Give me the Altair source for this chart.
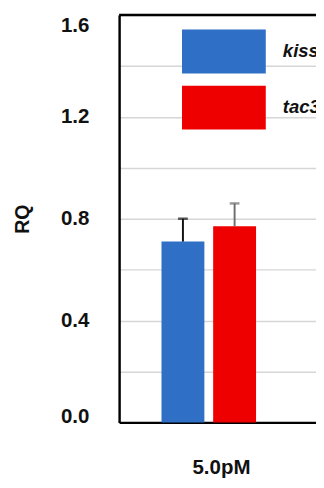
import altair as alt
import pandas as pd

# data
concentration = ["5.0pM"]
genes = ["kiss1", "tac3"]
rq_mean = [0.71, 0.77]
rq_err = [0.09, 0.09]
bar_colors = ["#2f6fc6", "#ee0000"]
err_colors = ["#111111", "#6e6e6e"]
y_top = 1.6
grid_values = [0, 0.2, 0.4, 0.6, 0.8, 1.0, 1.2, 1.4, 1.6]

df = pd.DataFrame({
    "conc": concentration * len(genes),
    "gene": genes,
    "rq": rq_mean,
    "err": rq_err,
    "errcolor": err_colors,
})
df["upper"] = df["rq"] + df["err"]

FONT = "Liberation Sans"

x_scale = alt.Scale(domain=concentration, paddingInner=0, paddingOuter=0.049, align=0)
xo_scale = alt.Scale(domain=genes, paddingInner=0.17, paddingOuter=0.82)
y_scale = alt.Scale(domain=[0, y_top], nice=False, zero=True)

base = alt.Chart(df)

bars = base.mark_bar(opacity=1).encode(
    x=alt.X("conc:N", scale=x_scale, sort=concentration, axis=alt.Axis(
        title=None, labelAngle=0, labelFont=FONT, labelFontSize=21,
        labelFontWeight="bold", labelColor="#111111", labelPadding=35,
        labelOffset=13, ticks=False, domain=True, domainColor="#000000",
        domainWidth=2.5, grid=False)),
    xOffset=alt.XOffset("gene:N", scale=xo_scale, sort=genes),
    y=alt.Y("rq:Q", scale=y_scale, axis=alt.Axis(
        title="RQ", titleFont=FONT, titleFontSize=20, titleFontWeight="bold",
        titleColor="#111111", titlePadding=29,
        values=grid_values,
        labelExpr="round(datum.value*10) % 4 == 0 ? format(datum.value, '.1f') : ''",
        labelFont=FONT, labelFontSize=21, labelFontWeight="bold",
        labelColor="#111111", labelPadding=31, labelFlush=False,
        labelBaseline={"expr": "datum.value >= 1.59 ? 'top' : (datum.value <= 0.01 ? 'alphabetic' : 'middle')"},
        ticks=False, domain=True, domainColor="#000000", domainWidth=2.5,
        grid=True, gridColor="#d6d6d6", gridWidth=1.5)),
    color=alt.Color("gene:N", sort=genes,
                    scale=alt.Scale(domain=genes, range=bar_colors),
                    legend=alt.Legend(
                        orient="none", legendX=85, legendY=15, title=None,
                        padding=0, symbolType="M-1.91,-1H1.91V1H-1.91Z",
                        symbolSize=2025, symbolStrokeWidth=0, symbolOpacity=1,
                        rowPadding=12.5, labelOffset=38, labelFont=FONT,
                        labelFontSize=19, labelFontWeight="bold",
                        labelFontStyle="italic", labelColor="#111111")),
)

err_rule = base.mark_rule(strokeWidth=2).encode(
    x=alt.X("conc:N", scale=x_scale, sort=concentration),
    xOffset=alt.XOffset("gene:N", scale=xo_scale, sort=genes),
    y=alt.Y("rq:Q", scale=y_scale),
    y2="upper:Q",
    color=alt.Color("errcolor:N", scale=None, legend=None),
)

err_cap = base.mark_tick(thickness=2.5, size=10).encode(
    x=alt.X("conc:N", scale=x_scale, sort=concentration),
    xOffset=alt.XOffset("gene:N", scale=xo_scale, sort=genes),
    y=alt.Y("upper:Q", scale=y_scale),
    color=alt.Color("errcolor:N", scale=None, legend=None),
)

top_border = alt.Chart(pd.DataFrame({"top": [y_top]})).mark_rule(
    color="#000000", strokeWidth=2.5
).encode(y=alt.Y("top:Q", scale=y_scale))

chart = alt.layer(bars, err_rule, err_cap, top_border).resolve_scale(
    color="independent"
).properties(
    width=202,
    height=418,
    autosize=alt.AutoSizeParams(type="none"),
    padding={"left": 114, "top": 1, "right": 0, "bottom": 56},
).configure_view(
    stroke=None
).configure(
    background="#ffffff"
)

chart.save("out.html", embed_options={"renderer": "svg", "actions": False})
